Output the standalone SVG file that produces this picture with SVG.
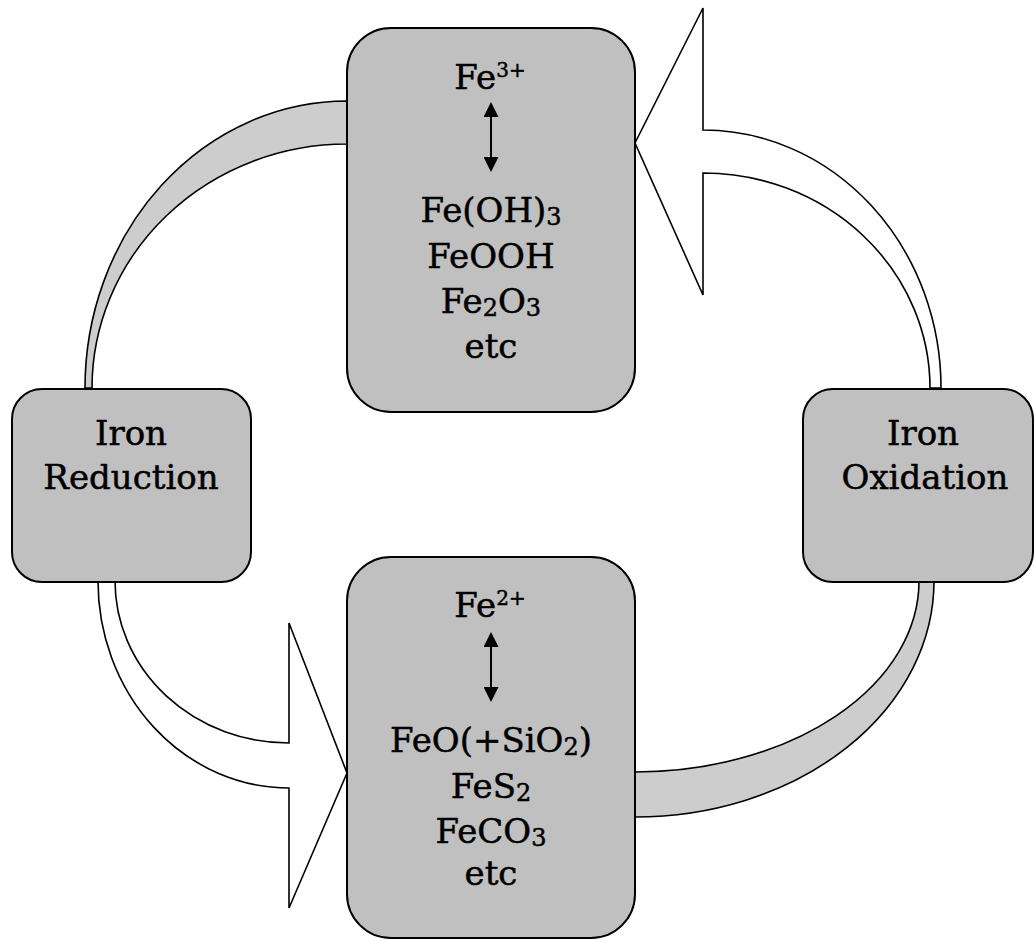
<svg xmlns="http://www.w3.org/2000/svg" width="1034" height="940" viewBox="0 0 1034 940">
<style>
.box{fill:#c0c0c0;stroke:#000;stroke-width:2}
.band{fill:#cdcdcd;stroke:#000;stroke-width:1.6;stroke-linejoin:miter}
.warrow{fill:#fff;stroke:#000;stroke-width:1.6;stroke-linejoin:miter}
.t{font-family:"DejaVu Serif","Liberation Serif",serif;font-size:34px;fill:#000;stroke:#000;stroke-width:0.5;text-anchor:middle}
.s{font-size:24px}
.p{font-size:20px}
.dbl{stroke:#000;stroke-width:2}
</style>
<defs>
<marker id="ah" viewBox="0 0 16 15" refX="0" refY="7.5" markerWidth="16" markerHeight="15" markerUnits="userSpaceOnUse" orient="auto-start-reverse">
<path d="M0,0 L15,7.5 L0,15 Z" fill="#000"/>
</marker>
</defs>
<rect width="1034" height="940" fill="#fff"/>
<g id="connectors">
<path class="band" d="M85,388 A262,287 0 0 1 347,101 L347,144 A255,244 0 0 0 92,388 Z"/>
<path class="warrow" d="M941,388 A238,258 0 0 0 703,130 L703,8 L635,143 L703,295 L703,173 A227,215 0 0 1 930,388 Z"/>
<path class="band" d="M934,581 A299,236 0 0 1 635,817 L635,772 A284,191 0 0 0 919,581 Z"/>
<path class="warrow" d="M98,581 A191,207 0 0 0 289,788 L289,908 L347,773 L289,623 L289,743 A174,162 0 0 1 115,581 Z"/>
</g>
<g id="fe3">
<rect class="box" x="347" y="28" width="288" height="384" rx="44"/>
<text class="t" x="490" y="89">Fe<tspan class="p" dy="-12">3+</tspan></text>
<line class="dbl" x1="491" y1="117" x2="491" y2="157" marker-start="url(#ah)" marker-end="url(#ah)"/>
<text class="t" x="491" y="222">Fe(OH)<tspan class="s" dy="3">3</tspan></text>
<text class="t" x="491" y="268">FeOOH</text>
<text class="t" x="491" y="313">Fe<tspan class="s" dy="3">2</tspan><tspan dy="-3">O</tspan><tspan class="s" dy="3">3</tspan></text>
<text class="t" x="491" y="358">etc</text>
</g>
<g id="fe2">
<rect class="box" x="347" y="557" width="288" height="381" rx="44"/>
<text class="t" x="490" y="617">Fe<tspan class="p" dy="-12">2+</tspan></text>
<line class="dbl" x1="491" y1="647" x2="491" y2="687" marker-start="url(#ah)" marker-end="url(#ah)"/>
<text class="t" x="491" y="752">FeO(+SiO<tspan class="s" dy="3">2</tspan><tspan dy="-3">)</tspan></text>
<text class="t" x="491" y="798">FeS<tspan class="s" dy="3">2</tspan></text>
<text class="t" x="491" y="843">FeCO<tspan class="s" dy="3">3</tspan></text>
<text class="t" x="491" y="885">etc</text>
</g>
<g id="reduction">
<rect class="box" x="12" y="389" width="239" height="193" rx="30"/>
<text class="t" x="131" y="445">Iron</text>
<text class="t" x="131" y="489">Reduction</text>
</g>
<g id="oxidation">
<rect class="box" x="803" y="389" width="230" height="193" rx="30"/>
<text class="t" x="923" y="445">Iron</text>
<text class="t" x="925" y="489">Oxidation</text>
</g>
</svg>
